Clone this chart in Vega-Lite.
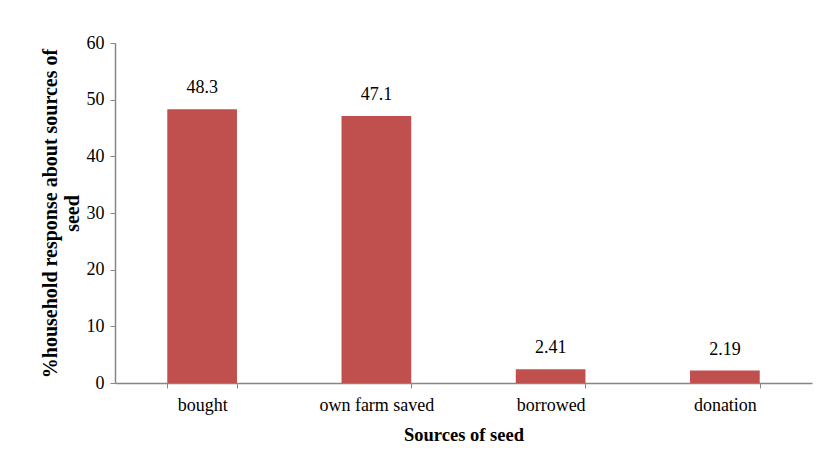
{
  "$schema": "https://vega.github.io/schema/vega-lite/v6.json",
  "width": 697,
  "height": 340,
  "autosize": "none",
  "padding": {"left": 115, "top": 43, "right": 18, "bottom": 77},
  "background": "white",
  "data": {"values": [
    {"source": "bought", "value": 48.3, "label": "48.3"},
    {"source": "own farm saved", "value": 47.1, "label": "47.1"},
    {"source": "borrowed", "value": 2.41, "label": "2.41"},
    {"source": "donation", "value": 2.19, "label": "2.19"}
  ]},
  "config": {
    "view": {"stroke": null},
    "font": "Liberation Serif, serif",
    "text": {"font": "Liberation Serif, serif"},
    "axis": {
      "labelFont": "Liberation Serif, serif",
      "titleFont": "Liberation Serif, serif",
      "labelFontSize": 18,
      "titleFontSize": 18.5,
      "labelColor": "#000000",
      "titleColor": "#000000",
      "domainColor": "#868686",
      "tickColor": "#868686",
      "domainWidth": 1.5,
      "tickWidth": 1,
      "tickSize": 5,
      "grid": false
    }
  },
  "encoding": {
    "x": {
      "field": "source",
      "type": "nominal",
      "sort": null,
      "scale": {"paddingInner": 0.6, "paddingOuter": 0.3},
      "axis": {
        "title": "Sources of seed",
        "labelAngle": 0,
        "labelPadding": 8,
        "titlePadding": 11,
        "titleFontWeight": "bold",
        "tickBand": "extent"
      }
    },
    "y": {
      "field": "value",
      "type": "quantitative",
      "scale": {"domain": [0, 60]},
      "axis": {
        "title": ["%household response about sources of", "seed"],
        "values": [0, 10, 20, 30, 40, 50, 60],
        "labelPadding": 6,
        "titlePadding": 4,
        "titleFontSize": 20,
        "titleFontWeight": "bold",
        "titleLineHeight": 22
      }
    }
  },
  "layer": [
    {"mark": {"type": "bar", "color": "#C0504D"}},
    {
      "mark": {"type": "text", "baseline": "bottom", "dy": -12, "fontSize": 18, "font": "Liberation Serif, serif", "color": "#000000"},
      "encoding": {"text": {"field": "label"}}
    }
  ]
}
